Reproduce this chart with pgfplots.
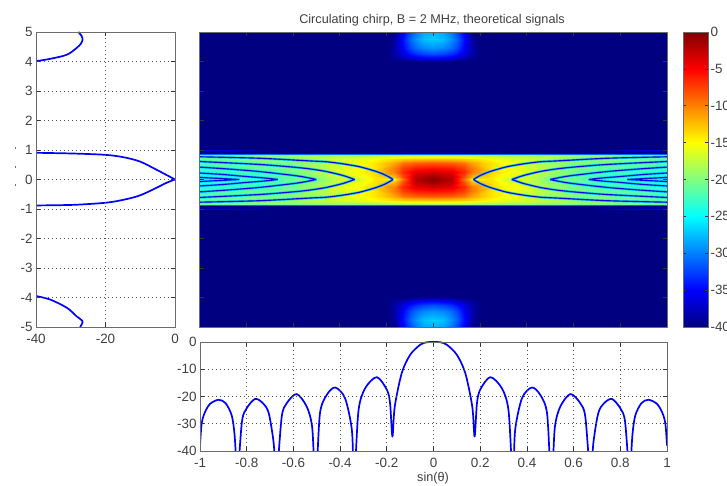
\documentclass[border=0pt]{standalone}
\usepackage{pgfplots}
\usepackage{pgfplotstable}
\usepackage{fontspec}
\setmainfont{Liberation Sans}
\pgfplotsset{compat=1.18}
\definecolor{tx}{gray}{0.25}
\definecolor{frame}{gray}{0.42}
\definecolor{nullline}{rgb}{0,0.03,0.9}
\definecolor{halo}{rgb}{0,0.8,1}
\pgfplotstableread[row sep=\\]{
x y z\\
0 0 -0.3\\ .08 0 -2.2\\ .13 0 -9.5\\ .17 0 -15\\ .25 0 -14\\ .33 0 -17.5\\ .42 0 -17\\ .5 0 -20.5\\ .6 0 -20.5\\ .7 0 -22.5\\ .8 0 -22.5\\ .9 0 -23.5\\ 1 0 -25\\
0 .1 -1\\ .08 .1 -2.6\\ .13 .1 -8\\ .17 .1 -12.5\\ .25 .1 -14\\ .33 .1 -16\\ .42 .1 -17.5\\ .5 .1 -19.5\\ .6 .1 -21\\ .7 .1 -22.5\\ .8 .1 -23\\ .9 .1 -23.5\\ 1 .1 -24\\
0 .25 -3.2\\ .08 .25 -4\\ .13 .25 -6.5\\ .17 .25 -10\\ .25 .25 -13.5\\ .33 .25 -15\\ .42 .25 -16.5\\ .5 .25 -18.5\\ .6 .25 -20.5\\ .7 .25 -22\\ .8 .25 -22.5\\ .9 .25 -23\\ 1 .25 -23.5\\
0 .4 -5.6\\ .08 .4 -6\\ .13 .4 -7.5\\ .17 .4 -10\\ .25 .4 -14\\ .33 .4 -15.5\\ .42 .4 -17\\ .5 .4 -18.5\\ .6 .4 -20\\ .7 .4 -21\\ .8 .4 -21.5\\ .9 .4 -22\\ 1 .4 -22.5\\
0 .55 -8.3\\ .08 .55 -8.6\\ .13 .55 -9.5\\ .17 .55 -11.5\\ .25 .55 -14\\ .33 .55 -15.5\\ .42 .55 -17\\ .5 .55 -18.5\\ .6 .55 -20\\ .7 .55 -20.5\\ .8 .55 -21\\ .9 .55 -21.5\\ 1 .55 -22\\
0 .7 -12.5\\ .08 .7 -12.7\\ .13 .7 -13\\ .17 .7 -13.5\\ .25 .7 -15\\ .33 .7 -16\\ .42 .7 -17\\ .5 .7 -18\\ .6 .7 -19\\ .7 .7 -19.5\\ .8 .7 -20\\ .9 .7 -20.5\\ 1 .7 -21\\
0 .8 -16.5\\ .08 .8 -16.6\\ .13 .8 -16.8\\ .17 .8 -17\\ .25 .8 -17.5\\ .33 .8 -18\\ .42 .8 -18\\ .5 .8 -18.5\\ .6 .8 -19\\ .7 .8 -19\\ .8 .8 -19.5\\ .9 .8 -19.5\\ 1 .8 -20\\
0 .85 -21\\ .08 .85 -21\\ .13 .85 -21\\ .17 .85 -21\\ .25 .85 -21\\ .33 .85 -21\\ .42 .85 -21\\ .5 .85 -21\\ .6 .85 -21.5\\ .7 .85 -21.5\\ .8 .85 -22\\ .9 .85 -22\\ 1 .85 -22\\
0 .875 -31\\ .08 .875 -31\\ .13 .875 -31\\ .17 .875 -31\\ .25 .875 -31\\ .33 .875 -31\\ .42 .875 -31\\ .5 .875 -31\\ .6 .875 -31\\ .7 .875 -31\\ .8 .875 -31\\ .9 .875 -31\\ 1 .875 -31\\
0 .9 -40\\ .08 .9 -40\\ .13 .9 -40\\ .17 .9 -40\\ .25 .9 -40\\ .33 .9 -40\\ .42 .9 -40\\ .5 .9 -40\\ .6 .9 -40\\ .7 .9 -40\\ .8 .9 -40\\ .9 .9 -40\\ 1 .9 -40\\
0 .95 -40\\ .08 .95 -40\\ .13 .95 -40\\ .17 .95 -40\\ .25 .95 -40\\ .33 .95 -40\\ .42 .95 -40\\ .5 .95 -40\\ .6 .95 -40\\ .7 .95 -40\\ .8 .95 -39\\ .9 .95 -38.5\\ 1 .95 -38\\
0 1 -40\\ .08 1 -40\\ .13 1 -40\\ .17 1 -40\\ .25 1 -40\\ .33 1 -40\\ .42 1 -40\\ .5 1 -40\\ .6 1 -40\\ .7 1 -39.5\\ .8 1 -37.5\\ .9 1 -36.5\\ 1 1 -36\\
0 1.05 -40\\ .08 1.05 -40\\ .13 1.05 -40\\ .17 1.05 -40\\ .25 1.05 -40\\ .33 1.05 -40\\ .42 1.05 -40\\ .5 1.05 -40\\ .6 1.05 -40\\ .7 1.05 -40\\ .8 1.05 -40\\ .9 1.05 -40\\ 1 1.05 -40\\
}\bandtable
\pgfplotstableread[row sep=\\]{
x y z\\
0 3.9 -40\\ .04 3.9 -40\\ .08 3.9 -40\\ .11 3.9 -40\\ .14 3.9 -40\\ .17 3.9 -40\\ .2 3.9 -40\\
0 4 -39.5\\ .04 4 -39.5\\ .08 4 -39.7\\ .11 4 -40\\ .14 4 -40\\ .17 4 -40\\ .2 4 -40\\
0 4.09 -36\\ .04 4.09 -36.3\\ .08 4.09 -37\\ .11 4.09 -38\\ .14 4.09 -38.8\\ .17 4.09 -39.5\\ .2 4.09 -40\\
0 4.24 -32\\ .04 4.24 -32.5\\ .08 4.24 -33.5\\ .11 4.24 -35\\ .14 4.24 -37\\ .17 4.24 -38.5\\ .2 4.24 -40\\
0 4.47 -29.2\\ .04 4.47 -29.7\\ .08 4.47 -31\\ .11 4.47 -33\\ .14 4.47 -36\\ .17 4.47 -38.5\\ .2 4.47 -40\\
0 4.75 -27\\ .04 4.75 -27.5\\ .08 4.75 -29.5\\ .11 4.75 -32\\ .14 4.75 -35.5\\ .17 4.75 -39\\ .2 4.75 -40\\
0 5 -28\\ .04 5 -28.5\\ .08 5 -30.5\\ .11 5 -33\\ .14 5 -36.5\\ .17 5 -40\\ .2 5 -40\\
}\blobtable
\pgfplotstableread[row sep=\\]{
x y\\
1 .77\\ .745 .72\\ .53 .63\\ .457 .6\\ .386 .53\\ .314 .43\\ .243 .27\\ .208 .16\\ .186 .07\\ .172 0\\
nan nan\\
1 -.77\\ .745 -.72\\ .53 -.63\\ .457 -.6\\ .386 -.53\\ .314 -.43\\ .243 -.27\\ .208 -.16\\ .186 -.07\\ .172 0\\
nan nan\\
1 .61\\ .745 .51\\ .6 .42\\ .529 .36\\ .457 .27\\ .386 .135\\ .336 0\\
nan nan\\
1 -.61\\ .745 -.51\\ .6 -.42\\ .529 -.36\\ .457 -.27\\ .386 -.135\\ .336 0\\
nan nan\\
1 .42\\ .886 .36\\ .745 .27\\ .59 .13\\ .53 .05\\ .5 0\\
nan nan\\
1 -.42\\ .886 -.36\\ .745 -.27\\ .59 -.13\\ .53 -.05\\ .5 0\\
nan nan\\
1 .22\\ .9 .17\\ .8 .1\\ .72 .05\\ .665 0\\
nan nan\\
1 -.22\\ .9 -.17\\ .8 -.1\\ .72 -.05\\ .665 0\\
nan nan\\
1 .07\\ .9 .03\\ .83 0\\
nan nan\\
1 -.07\\ .9 -.03\\ .83 0\\
}\nulltable
\pgfplotsset{
  myaxis/.style={
    scale only axis, anchor=south west, axis on top,
    axis line style={frame, line width=0.9bp},
    tick style={black!80, line width=0.7bp},
    major tick length=4bp, tick align=inside,
    tick label style={font=\fontsize{13.5}{13.5}\selectfont, text=tx},
    /pgf/number format/assume math mode=true,
    scaled ticks=false,
    grid style={black!70, line width=0.7bp, dash pattern=on 1bp off 3bp},
    xticklabel style={yshift=-3.5bp},
    yticklabel style={xshift=0bp},
  },
  mapaxis/.style={
    colormap/jet, point meta min=-40, point meta max=0,
  },
  heat/.style={surf, shader=interp, point meta=explicit},
}
\begin{document}
\begin{tikzpicture}[x=1bp,y=1bp]
\path[use as bounding box] (0,0) rectangle (727,486);
\fill[black!55] (15.2,337.3) rectangle (16.4,339.3);
\fill[black!55] (15.2,317.6) rectangle (16.4,319.6);
\fill[black!55] (15.2,300.4) rectangle (16.4,302.4);
% left cut
\begin{axis}[myaxis, at={(36bp,159bp)}, width=139bp, height=295bp,
  xmin=-40, xmax=0, ymin=-5, ymax=5, xtick={-40,-20,0}, ytick={-5,-4,...,5}, grid=major]
\addplot[blue, line width=1.7bp, smooth] coordinates {(-27.8,5)(-26.9,4.87)(-26.6,4.74)(-27.1,4.6)(-28.3,4.46)(-31.1,4.23)(-35.9,4.09)(-40,4.01)};
\addplot[blue, line width=1.7bp, smooth] coordinates {(-40,.905)(-29.3,.88)(-20.1,.836)(-14.9,.757)(-10.1,.61)(-5.3,.33)(-2.4,.15)(0,0)};
\addplot[blue, line width=1.7bp, smooth] coordinates {(0,0)(-2.4,-.11)(-5.3,-.28)(-10.1,-.54)(-14.9,-.69)(-20.1,-.79)(-29.3,-.86)(-40,-.88)};
\addplot[blue, line width=1.7bp, smooth] coordinates {(-40,-3.95)(-35.9,-4.07)(-31.1,-4.35)(-28.3,-4.64)(-26.6,-4.81)(-27.3,-5)};
\end{axis}
% main map
\begin{axis}[myaxis, mapaxis, at={(199.5bp,159bp)}, width=467.5bp, height=295bp,
  xmin=-1, xmax=1, ymin=-5, ymax=5, xtick={-1,-0.8,...,1}, ytick={-5,-4,...,5},
  xticklabels={}, yticklabels={}, unbounded coords=jump]
\addplot[heat, mesh/cols=2] table[x=x,y=y,meta=z,row sep=\\] {x y z\\ -1 -5 -40\\ 1 -5 -40\\ -1 5 -40\\ 1 5 -40\\};
\addplot[heat, mesh/cols=13] table[x=x,y=y,meta=z] {\bandtable};
\addplot[heat, mesh/cols=13] table[x expr=-\thisrow{x},y=y,meta=z] {\bandtable};
\addplot[heat, mesh/cols=13] table[x=x,y expr=-\thisrow{y},meta=z] {\bandtable};
\addplot[heat, mesh/cols=13] table[x expr=-\thisrow{x},y expr=-\thisrow{y},meta=z] {\bandtable};
\addplot[heat, mesh/cols=7] table[x=x,y=y,meta=z] {\blobtable};
\addplot[heat, mesh/cols=7] table[x expr=-\thisrow{x},y=y,meta=z] {\blobtable};
\addplot[heat, mesh/cols=7] table[x=x,y expr=-\thisrow{y},meta=z] {\blobtable};
\addplot[heat, mesh/cols=7] table[x expr=-\thisrow{x},y expr=-\thisrow{y},meta=z] {\blobtable};
\addplot[halo, opacity=0.7, line width=2.6bp, line join=round, smooth, tension=0.45] table[x=x,y=y] {\nulltable};
\addplot[halo, opacity=0.7, line width=2.6bp, line join=round, smooth, tension=0.45] table[x expr=-\thisrow{x},y=y] {\nulltable};
\addplot[nullline, line width=1.15bp, line join=round, smooth, tension=0.45] table[x=x,y=y] {\nulltable};
\addplot[nullline, line width=1.15bp, line join=round, smooth, tension=0.45] table[x expr=-\thisrow{x},y=y] {\nulltable};
\end{axis}
% colour bar
\begin{axis}[myaxis, mapaxis, at={(683bp,159bp)}, width=25bp, height=295bp,
  xmin=0, xmax=1, ymin=-40, ymax=0, xtick=\empty, ytick={-40,-35,...,0}, yticklabel pos=right,
  major tick length=3bp, yticklabel style={xshift=-1bp}]
\addplot[heat, mesh/cols=2] table[x=x,y=y,meta=z,row sep=\\] {x y z\\ 0 -40 -40\\ 1 -40 -40\\ 0 0 0\\ 1 0 0\\};
\end{axis}
% lower cut
\begin{axis}[myaxis, at={(200bp,35bp)}, width=467bp, height=109bp,
  xmin=-1, xmax=1, ymin=-40, ymax=0, xtick={-1,-0.8,...,1}, ytick={-40,-30,...,0}, grid=major,
  xticklabel style={/pgf/number format/fixed, /pgf/number format/precision=1}]
\addplot[blue, line width=1.7bp, line join=round, smooth, tension=0.5] coordinates {
(-1,-38)(-.993,-30)(-.98,-26)(-.957,-22.7)(-.92,-21.2)(-.89,-22.5)(-.864,-27)(-.852,-34)(-.843,-46)(-.836,-46)(-.82,-29)(-.8,-24.3)(-.764,-20.9)(-.73,-22.5)(-.706,-26)(-.686,-36)(-.676,-46)(-.668,-46)(-.65,-27.4)(-.629,-22.5)(-.586,-19.1)(-.543,-23.7)(-.52,-31)(-.51,-46)(-.5,-46)(-.486,-26)(-.457,-19.4)(-.421,-16.7)(-.379,-20.6)(-.35,-32)(-.343,-46)(-.336,-46)(-.321,-25)(-.293,-17)(-.243,-12.9)(-.2,-17.5)(-.186,-22.5)(-.176,-34.7)(-.166,-23.7)(-.136,-11.4)(-.1,-4.7)(-.057,-1)(-.029,-.1)(0,0)
(.029,-.1)(.057,-1)(.1,-4.7)(.136,-11.4)(.166,-23.7)(.176,-34.7)(.186,-22.5)(.2,-17.5)(.243,-12.9)(.293,-17)(.321,-25)(.336,-46)(.343,-46)(.35,-32)(.379,-20.6)(.421,-16.7)(.457,-19.4)(.486,-26)(.5,-46)(.51,-46)(.52,-31)(.543,-23.7)(.586,-19.1)(.629,-22.5)(.65,-27.4)(.668,-46)(.676,-46)(.686,-36)(.706,-26)(.73,-22.5)(.764,-20.9)(.8,-24.3)(.82,-29)(.836,-46)(.843,-46)(.852,-34)(.864,-27)(.89,-22.5)(.92,-21.2)(.957,-22.7)(.98,-26)(.993,-30)(1,-38)};
\end{axis}
\node[font=\fontsize{12.7}{13}\selectfont, text=tx, anchor=center] at (432,466) {Circulating chirp, B = 2 MHz, theoretical signals};
\node[font=\fontsize{12.7}{13}\selectfont, text=tx, anchor=center] at (433,7.5) {sin(θ)};
\end{tikzpicture}
\end{document}
